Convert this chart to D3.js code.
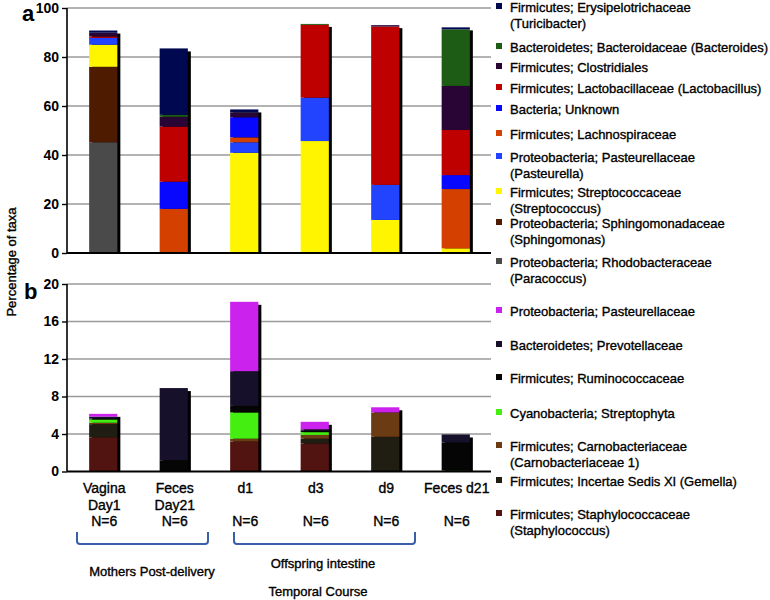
<!DOCTYPE html>
<html>
<head>
<meta charset="utf-8">
<script src="https://cdn.jsdelivr.net/npm/d3@7"></script>
<style>
  body { margin: 0; background: #fff; }
  svg { display: block; font-family: "Liberation Sans", Arial, Helvetica, sans-serif; }
  .heavy { stroke: #000; stroke-width: 0.35px; }
</style>
</head>
<body>
<svg id="chart" width="770" height="600"></svg>
<script>
// ---------- DATA ----------
const categories = ["Vagina Day1", "Feces Day21", "d1", "d3", "d9", "Feces d21"];
const categoryLabels = [["Vagina", "Day1", "N=6"], ["Feces", "Day21", "N=6"], ["d1", "", "N=6"], ["d3", "", "N=6"], ["d9", "", "N=6"], ["Feces d21", "", "N=6"]];

// Panel a series (bottom-to-top stacking order)
const topSeries = [
  "Proteobacteria; Rhodobacteraceae (Paracoccus)",
  "Proteobacteria; Sphingomonadaceae (Sphingomonas)",
  "Firmicutes; Streptococcaceae (Streptococcus)",
  "Proteobacteria; Pasteurellaceae (Pasteurella)",
  "Firmicutes; Lachnospiraceae",
  "Bacteria; Unknown",
  "Firmicutes; Lactobacillaceae (Lactobacillus)",
  "Firmicutes; Clostridiales",
  "Bacteroidetes; Bacteroidaceae (Bacteroides)",
  "Firmicutes; Erysipelotrichaceae (Turicibacter)"
];
const topLegendLines = [
  ["Proteobacteria; Rhodobacteraceae", "(Paracoccus)"],
  ["Proteobacteria; Sphingomonadaceae", "(Sphingomonas)"],
  ["Firmicutes; Streptococcaceae", "(Streptococcus)"],
  ["Proteobacteria; Pasteurellaceae", "(Pasteurella)"],
  ["Firmicutes; Lachnospiraceae"],
  ["Bacteria; Unknown"],
  ["Firmicutes; Lactobacillaceae (Lactobacillus)"],
  ["Firmicutes; Clostridiales"],
  ["Bacteroidetes; Bacteroidaceae (Bacteroides)"],
  ["Firmicutes; Erysipelotrichaceae", "(Turicibacter)"]
];
const paracoccus    = [45.2, 0,    0,    0,    0,    0];
const sphingomonas  = [30.8, 0,    0,    0,    0,    0];
const streptococcus = [9.0,  0,    40.9, 45.7, 13.5, 1.9];
const pasteurella   = [2.8,  0,    4.3,  17.7, 14.3, 0];
const lachnospira   = [0,    18.0, 2.0,  0,    0,    24.2];
const bactUnknown   = [0,    11.1, 8.2,  0,    0,    5.7];
const lactobacillus = [0.6,  22.5, 0,    29.7, 64.6, 18.4];
const clostridiales = [1.5,  4.0,  2.0,  0,    0.6,  18.0];
const bacteroides   = [0,    0.8,  0,    0.4,  0,    23.1];
const turicibacter  = [0.9,  27.1, 1.2,  0,    0,    0.8];
const topValues = [paracoccus, sphingomonas, streptococcus, pasteurella, lachnospira,
                   bactUnknown, lactobacillus, clostridiales, bacteroides, turicibacter];
const topColors = ["#4a4a4a", "#4f1b00", "#fff500", "#2244ff", "#d44000",
                   "#0808ff", "#bf0000", "#290535", "#1d5c14", "#00084f"];
const topTicks = [0, 20, 40, 60, 80, 100];

// Panel b series (bottom-to-top stacking order)
const botSeries = [
  "Firmicutes; Staphylococcaceae (Staphylococcus)",
  "Firmicutes; Incertae Sedis XI (Gemella)",
  "Firmicutes; Carnobacteriaceae (Carnobacteriaceae 1)",
  "Cyanobacteria; Streptophyta",
  "Firmicutes; Ruminococcaceae",
  "Bacteroidetes; Prevotellaceae",
  "Proteobacteria; Pasteurellaceae"
];
const botLegendLines = [
  ["Firmicutes; Staphylococcaceae", "(Staphylococcus)"],
  ["Firmicutes; Incertae Sedis XI (Gemella)"],
  ["Firmicutes; Carnobacteriaceae", "(Carnobacteriaceae 1)"],
  ["Cyanobacteria; Streptophyta"],
  ["Firmicutes; Ruminococcaceae"],
  ["Bacteroidetes; Prevotellaceae"],
  ["Proteobacteria; Pasteurellaceae"]
];
const staphylococcus = [3.65, 0,   3.2, 3.0,  0,    0];
const gemella        = [1.4,  0,   0,   0.5,  3.7,  0];
const carnobacteria  = [0.15, 0,   0.3, 0.4,  2.6,  0];
const streptophyta   = [0.35, 0,   2.8, 0.3,  0,    0.1];
const ruminococcus   = [0.1,  1.2, 0.7, 0.15, 0,    3.0];
const prevotella     = [0.2,  7.7, 3.7, 0.15, 0,    0.85];
const pasteurellaceae= [0.3,  0,   7.4, 0.8,  0.55, 0];
const botValues = [staphylococcus, gemella, carnobacteria, streptophyta, ruminococcus, prevotella, pasteurellaceae];
const botColors = ["#521410", "#201e12", "#6b3c14", "#44ee11", "#050505", "#16102a", "#cc22ee"];
const botTicks = [0, 4, 8, 12, 16, 20];

// ---------- LAYOUT ----------
const svg = d3.select("#chart");
const axisX = 67, plotRight = 491;
const x = d3.scaleBand().domain(categories).range([axisX + 1, plotRight]).paddingInner(0.6).paddingOuter(0.3);
const yTop = d3.scaleLinear().domain([0, 100]).range([253, 8]);
const yBot = d3.scaleLinear().domain([0, 20]).range([471.5, 284]);

function drawPanel(y, ticks, values, colors) {
  const g = svg.append("g");
  g.selectAll("line.grid").data(ticks.filter(t => t > 0)).join("line")
    .attr("x1", axisX).attr("x2", plotRight)
    .attr("y1", d => y(d)).attr("y2", d => y(d))
    .attr("stroke", "#9a9a9a").attr("stroke-width", 1.6);
  const rows = categories.map((c, i) => {
    const o = { cat: c };
    values.forEach((arr, k) => o["s" + k] = arr[i]);
    return o;
  });
  const keys = values.map((_, k) => "s" + k);
  const stack = d3.stack().keys(keys)(rows);
  const totals = rows.map(r => keys.reduce((a, k) => a + r[k], 0));
  g.selectAll("rect.shadow").data(categories).join("rect")
    .attr("x", d => x(d) + 3)
    .attr("y", (d, i) => y(totals[i]) + 3)
    .attr("width", x.bandwidth())
    .attr("height", (d, i) => Math.max(0, y(0) - y(totals[i]) - 3))
    .attr("fill", "#000");
  stack.forEach((layer, k) => {
    g.selectAll(null).data(layer).join("rect")
      .attr("x", d => x(d.data.cat))
      .attr("y", d => y(d[1]))
      .attr("width", x.bandwidth())
      .attr("height", d => Math.max(0, y(d[0]) - y(d[1])))
      .attr("fill", colors[k]);
  });
  const ax = d3.axisLeft(y).tickValues(ticks).tickSize(5).tickPadding(3);
  const axG = g.append("g").attr("transform", `translate(${axisX},0)`).call(ax);
  axG.select(".domain").attr("stroke", "#000").attr("stroke-width", 1.6).attr("d", `M0,${y(ticks[ticks.length-1])}V${y(0)}`);
  axG.selectAll(".tick line").attr("stroke", "#000").attr("stroke-width", 1.4);
  axG.selectAll(".tick text").attr("font-size", 14).attr("font-weight", "bold").attr("fill", "#000")
    .attr("font-family", "'Liberation Sans', Arial, sans-serif");
  g.append("line").attr("x1", axisX).attr("x2", plotRight).attr("y1", y(0)).attr("y2", y(0))
    .attr("stroke", "#000").attr("stroke-width", 2);
}

drawPanel(yTop, topTicks, topValues, topColors);
drawPanel(yBot, botTicks, botValues, botColors);

svg.append("text").attr("x", 22).attr("y", 21).text("a")
  .attr("font-size", 22).attr("font-weight", "bold");
svg.append("text").attr("x", 24).attr("y", 299).text("b")
  .attr("font-size", 22).attr("font-weight", "bold");

svg.append("text").attr("class", "heavy").attr("transform", "translate(16,262) rotate(-90)")
  .attr("text-anchor", "middle").attr("font-size", 13).text("Percentage of taxa");

const lab = svg.append("g").attr("class", "heavy").attr("font-size", 14).attr("text-anchor", "middle").attr("fill", "#000");
categories.forEach((c, i) => {
  const cx = x(c) + x.bandwidth() / 2 + 1;
  const lines = categoryLabels[i];
  [493, 510, 526].forEach((yy, j) => {
    if (lines[j]) lab.append("text").attr("x", cx).attr("y", yy).text(lines[j]);
  });
});

const brackets = [[77, 208], [234, 415]];
brackets.forEach(([a, b]) => {
  svg.append("path")
    .attr("d", `M${a},532 V541 Q${a},544 ${a+3},544 H${b-3} Q${b},544 ${b},541 V532`)
    .attr("fill", "none").attr("stroke", "#3b5ea8").attr("stroke-width", 2);
});
const grp = svg.append("g").attr("class", "heavy").attr("font-size", 13).attr("text-anchor", "middle");
grp.append("text").attr("x", 152).attr("y", 576).text("Mothers Post-delivery");
grp.append("text").attr("x", 323).attr("y", 568).text("Offspring intestine");
grp.append("text").attr("x", 318).attr("y", 596).text("Temporal Course");

function drawLegend(lines, colors, ys) {
  const g = svg.append("g").attr("font-size", 13);
  lines.forEach((ls, k) => {
    const y0 = ys[k];
    g.append("rect").attr("x", 496).attr("y", y0 - 9).attr("width", 6).attr("height", 6).attr("fill", colors[k]);
    ls.forEach((t, j) => {
      g.append("text").attr("class", "heavy").attr("x", 510).attr("y", y0 + j * 16).text(t);
    });
  });
}
drawLegend(topLegendLines, topColors, [267, 228, 197, 162, 139, 114, 93, 72, 52, 12]);
drawLegend(botLegendLines, botColors, [519, 486, 451, 418, 383, 350, 316]);
</script>
</body>
</html>
